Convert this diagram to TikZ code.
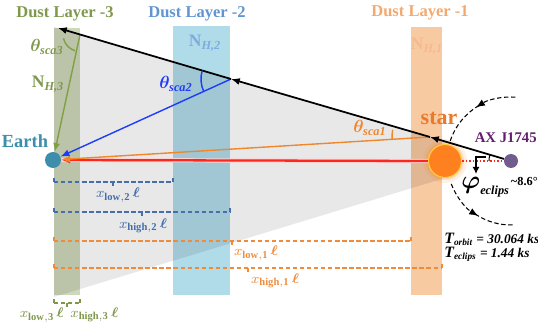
\documentclass[tikz,border=0pt]{standalone}
\usepackage{amsmath}
\usepackage{bm}
\usepackage{fontspec}
\setmainfont{Liberation Serif}
\usetikzlibrary{arrows.meta}
\definecolor{layergreen}{RGB}{206,216,186}
\definecolor{layerblue}{RGB}{176,219,233}
\definecolor{layerorange}{RGB}{248,202,162}
\definecolor{txtgreen}{RGB}{128,152,78}
\definecolor{txtblue}{RGB}{98,148,208}
\definecolor{txtorange}{RGB}{244,168,108}
\definecolor{nhblue}{RGB}{125,172,222}
\definecolor{nhorange}{RGB}{246,186,140}
\definecolor{brkblue}{RGB}{70,110,170}
\definecolor{brkorange}{RGB}{238,140,60}
\definecolor{rayblue}{RGB}{30,60,250}
\definecolor{rayorange}{RGB}{240,135,45}
\definecolor{raygreen}{RGB}{128,160,70}
\definecolor{rayred}{RGB}{250,40,30}
\definecolor{earthteal}{RGB}{60,142,170}
\definecolor{starorange}{RGB}{255,128,30}
\definecolor{staryellow}{RGB}{255,205,60}
\definecolor{starlbl}{RGB}{232,122,42}
\definecolor{axpurple}{RGB}{112,92,142}
\definecolor{axtext}{RGB}{100,30,110}

\begin{document}
\begin{tikzpicture}[x=0.02cm, y=-0.02cm,
      lbl/.style={font=\bfseries\fontsize{9.4}{11}\selectfont, inner sep=0pt},
      nlbl/.style={font=\bfseries\fontsize{10}{11}\selectfont, inner sep=0pt},
      thlbl/.style={font=\fontsize{10}{11}\selectfont, inner sep=0pt},
      xlbl/.style={font=\fontsize{8}{9}\selectfont, inner sep=0pt},
      ray/.style={line width=0.8pt, -{Latex[length=5pt,width=4pt]}},
      brk/.style={line width=0.7pt, dash pattern=on 2.5pt off 1.5pt},
      tick/.style={line width=0.7pt},
      orb/.style={line width=0.6pt, dash pattern=on 2.5pt off 1.5pt,
                  -{Latex[length=5pt,width=4pt]}},
      body/.style={circle, inner sep=0pt},
    ]
    \useasboundingbox (0,0) rectangle (538,334);
    %% dust layers
    \fill[layergreen] (54,28) rectangle (80,295);
    \fill[layerblue] (173,26) rectangle (230,295);
    \fill[layerorange] (411,27) rectangle (442,295);
    %% scattering cone
    \fill[black, opacity=0.09] (54,27) -- (445,142) -- (445,178) -- (54,297) -- cycle;
    %% layer titles
    \node[lbl, text=txtgreen] (t3) at (65,14) {Dust Layer -3};
    \node[lbl, text=txtblue] (t2) at (197,14) {Dust Layer -2};
    \node[lbl, text=txtorange] (t1) at (420,13) {Dust Layer -1};
    %% column densities
    \node[nlbl, text=txtgreen] (nh3) at (48,84) {N\textsubscript{\textit{H,3}}};
    \node[nlbl, text=nhblue] (nh2) at (205,43) {N\textsubscript{\textit{H,2}}};
    \node[nlbl, text=nhorange] (nh1) at (427,46) {N\textsubscript{\textit{H,1}}};
    %% distance brackets
    \foreach \xa/\xb/\yy/\xm/\col in {54/173/182/113/brkblue, 54/230/212/142/brkblue,
        54/411/241/232/brkorange, 54/442/268/248/brkorange, 54/80/303/67/txtgreen}{
      \draw[brk, \col] (\xa,\yy) -- (\xb,\yy);
      \draw[tick, \col] (\xa,\yy-4) -- (\xa,\yy);
      \draw[tick, \col] (\xb,\yy-4) -- (\xb,\yy);
      \draw[tick, \col] (\xm,\yy) -- (\xm,\yy+4);
    }
    \node[xlbl, text=brkblue] (xl2) at (118,195) {$x_{\mathbf{low,2}}\,\bm{\ell}$};
    \node[xlbl, text=brkblue] (xh2) at (143,226) {$x_{\mathbf{high,2}}\,\bm{\ell}$};
    \node[xlbl, text=brkorange] (xl1) at (256,253) {$x_{\mathbf{low,1}}\,\bm{\ell}$};
    \node[xlbl, text=brkorange] (xh1) at (275,281) {$x_{\mathbf{high,1}}\,\bm{\ell}$};
    \node[xlbl, text=txtgreen, anchor=east] (xl3) at (64,315) {$x_{\mathbf{low,3}}\,\bm{\ell}$};
    \node[xlbl, text=txtgreen, anchor=west] (xh3) at (70,315) {$x_{\mathbf{high,3}}\,\bm{\ell}$};
    %% star glow
    \fill[starorange, opacity=0.12] (445,161) circle (22);
    \fill[starorange, opacity=0.18] (445,161) circle (19);
    %% bodies
    \node[body, fill=earthteal, minimum size=0.32cm] (earth) at (53,160) {};
    \node[body, fill=starorange, draw=staryellow, line width=0.6pt,
          minimum size=0.66cm] (star) at (445,161) {};
    \node[body, fill=axpurple, minimum size=0.28cm] (ax) at (511,161) {};
    \node[font=\bfseries\fontsize{10.5}{11}\selectfont, text=earthteal] (earthlbl) at (25,141) {Earth};
    \node[font=\bfseries\fontsize{12.5}{13}\selectfont, text=starlbl] (starlbl) at (439,118) {star};
    \node[anchor=east, inner sep=0pt, font=\bfseries\fontsize{8.4}{9}\selectfont, text=axtext] (axlbl) at (537,138) {AX J1745};
    %% scattering points
    \coordinate (sc3) at (80,34.5);
    \coordinate (sc2) at (231,79);
    \coordinate (sc1) at (430,137);
    \coordinate (end3) at (58,28);
    %% rays
    \draw[line width=2.4pt, red!18] (star.west) -- (earth.east);
    \draw[ray, rayred, line width=1.3pt] (star.west) -- (earth.east);
    \draw[rayred, line width=1.3pt, dash pattern=on 1pt off 1pt] (star.east) -- (ax.west);
    \draw[ray, rayorange] (sc1) -- (earth);
    \draw[ray, rayblue] (sc2) -- (earth);
    \draw[ray, raygreen] (sc3) -- (earth);
    \draw[ray, black, line width=1pt] (ax) -- (sc1);
    \draw[ray, black, line width=1pt] (sc1) -- (sc2);
    \draw[ray, black, line width=1pt] (sc2) -- (end3);
    %% scattering angles
    \draw[raygreen, line width=0.8pt] (sc3) ++(167:17) arc[start angle=167, end angle=107, radius=17];
    \draw[rayblue, line width=0.8pt] (sc2) ++(196:30) arc[start angle=196, end angle=156, radius=30];
    \draw[rayorange, line width=0.8pt] (sc1) ++(191:38) arc[start angle=191, end angle=177, radius=38];
    \node[thlbl, text=txtgreen] (th3) at (47,47) {$\bm{\theta}_{\textbf{\textit{sca3}}}$};
    \node[thlbl, text=rayblue] (th2) at (176,84) {$\bm{\theta}_{\textbf{\textit{sca2}}}$};
    \node[thlbl, text=rayorange] (th1) at (370,128) {$\bm{\theta}_{\textbf{\textit{sca1}}}$};
    %% orbit
    \draw[orb] (ax) ++(274:64) arc[start angle=274, end angle=237, radius=64];
    \draw[orb, -] (ax) ++(240:64) arc[start angle=240, end angle=197, radius=64];
    \draw[orb] (ax) ++(159:64) arc[start angle=159, end angle=121, radius=64];
    \draw[orb, -] (ax) ++(124:64) arc[start angle=124, end angle=88, radius=64];
    %% eclipse angle
    \draw[line width=1.3pt, -{Latex[length=4pt,width=4pt]}] (486,157) -- (476,157) -- (476,174);
    \draw[line width=0.6pt] (ax) ++(180:22) arc[start angle=180, end angle=196, radius=22];
    \node[anchor=west, inner sep=0pt] (phi) at (461,187)
      {\fontsize{14}{14}\selectfont$\bm{\varphi}$\fontsize{7}{7}\selectfont\raisebox{-3pt}{\bfseries\itshape eclips}\,\raisebox{2pt}{\bfseries\textasciitilde 8.6°}};
    \node[anchor=west, align=left, inner sep=0pt, font=\bfseries\itshape\fontsize{7.6}{8}\selectfont] (tinfo) at (444,247)
      {{\fontsize{9}{8}\selectfont T}\textsubscript{orbit} = 30.064 ks\\{\fontsize{9}{8}\selectfont T}\textsubscript{eclips} = 1.44 ks};
    \end{tikzpicture}
\end{document}
